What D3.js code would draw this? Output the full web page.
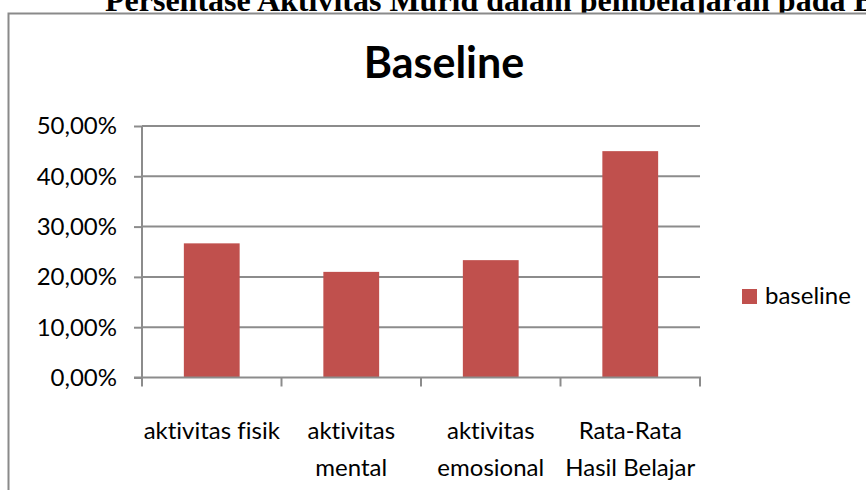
<!DOCTYPE html>
<html>
<head>
<meta charset="utf-8">
<script src="https://cdn.jsdelivr.net/npm/d3@7/dist/d3.min.js"></script>
<style>
  html, body { margin: 0; padding: 0; background: #fff; overflow: hidden; }
  svg { display: block; }
  text { font-variant-ligatures: none; font-feature-settings: "liga" 0, "clig" 0; }
</style>
</head>
<body>
<svg id="chart" width="866" height="490"></svg>
<script>
// ---- data ----
const pageTitle = "Persentase Aktivitas Murid dalam pembelajaran pada Baseline";
const chartTitle = "Baseline";
const seriesName = "baseline";
const categories = [
  ["aktivitas fisik"],
  ["aktivitas", "mental"],
  ["aktivitas", "emosional"],
  ["Rata-Rata", "Hasil Belajar"]
];
const values = [0.2667, 0.2100, 0.2333, 0.4500];
const yTicks = [0, 0.1, 0.2, 0.3, 0.4, 0.5];

// ---- drawing ----
const svg = d3.select("#chart");
const barColor = "#C0504D";
const gridColor = "#8c8c8c";
const sansFont = "Lato, 'Open Sans', sans-serif";

// page title (serif, cropped at top)
svg.append("text")
  .attr("x", 105).attr("y", 11)
  .attr("font-family", "'Liberation Serif', 'Times New Roman', serif")
  .attr("font-weight", "bold")
  .attr("font-size", 32)
  .attr("fill", "#000")
  .text(pageTitle);

// chart area box
svg.append("rect")
  .attr("x", 8.5).attr("y", 13.5)
  .attr("width", 1000).attr("height", 600)
  .attr("fill", "#fff")
  .attr("stroke", "#8a8a8a")
  .attr("stroke-width", 2);

// chart title
svg.append("text")
  .attr("x", 444).attr("y", 78)
  .attr("text-anchor", "middle")
  .attr("font-family", sansFont)
  .attr("font-weight", "bold")
  .attr("font-size", 43)
  .attr("fill", "#000")
  .text(chartTitle);

const x = d3.scaleBand()
  .domain(categories.map((d, i) => i))
  .range([142, 700])
  .paddingInner(0.6)
  .paddingOuter(0.3);

const xOuter = d3.scaleBand()
  .domain(categories.map((d, i) => i))
  .range([142, 700]);

const y = d3.scaleLinear().domain([0, 0.5]).range([377.5, 126]);

const locale = d3.formatLocale({ decimal: ",", thousands: ".", grouping: [3], currency: ["", ""] });
const fmt = locale.format(".2%");

// gridlines
svg.append("g")
  .selectAll("line")
  .data(yTicks.filter(t => t > 0))
  .join("line")
  .attr("x1", 142).attr("x2", 700)
  .attr("y1", d => y(d)).attr("y2", d => y(d))
  .attr("stroke", gridColor)
  .attr("stroke-width", 2);

// bars
svg.append("g")
  .selectAll("rect")
  .data(values)
  .join("rect")
  .attr("x", (d, i) => x(i))
  .attr("width", x.bandwidth())
  .attr("y", d => y(d))
  .attr("height", d => y(0) - y(d))
  .attr("fill", barColor);

// y axis
const yAxis = svg.append("g")
  .attr("transform", "translate(142,0)")
  .call(d3.axisLeft(y).tickValues(yTicks).tickFormat(fmt).tickSize(8).tickPadding(17));
yAxis.select(".domain").attr("stroke", gridColor).attr("stroke-width", 2)
  .attr("d", `M0,${y(0.5)}V${y(0)}`);
yAxis.selectAll(".tick line").attr("stroke", gridColor).attr("stroke-width", 2);
yAxis.selectAll(".tick text")
  .attr("font-family", sansFont)
  .attr("font-size", 24)
  .attr("fill", "#000")
  .attr("dy", "0.33em");

// x axis
const xAxis = svg.append("g")
  .attr("transform", `translate(0,${y(0)})`);
xAxis.append("line")
  .attr("x1", 134).attr("x2", 701)
  .attr("stroke", gridColor).attr("stroke-width", 2);
const tickXs = categories.map((d, i) => xOuter(i)).concat([xOuter(categories.length - 1) + xOuter.bandwidth()]);
xAxis.selectAll("line.tk")
  .data(tickXs)
  .join("line")
  .attr("class", "tk")
  .attr("x1", d => d).attr("x2", d => d)
  .attr("y1", 0).attr("y2", 9)
  .attr("stroke", gridColor).attr("stroke-width", 2);

const labels = svg.append("g")
  .selectAll("text")
  .data(categories)
  .join("text")
  .attr("x", (d, i) => xOuter(i) + xOuter.bandwidth() / 2)
  .attr("y", 439)
  .attr("text-anchor", "middle")
  .attr("font-family", sansFont)
  .attr("font-size", 24)
  .attr("fill", "#000");
labels.selectAll("tspan")
  .data(d => d)
  .join("tspan")
  .attr("x", function() { return this.parentNode.getAttribute("x"); })
  .attr("dy", (d, i) => i === 0 ? 0 : 36.5)
  .text(d => d);

// legend
svg.append("rect")
  .attr("x", 742).attr("y", 289)
  .attr("width", 15).attr("height", 15)
  .attr("fill", barColor);
svg.append("text")
  .attr("x", 765).attr("y", 304)
  .attr("font-family", sansFont)
  .attr("font-size", 24)
  .attr("fill", "#000")
  .text(seriesName);
</script>
</body>
</html>
